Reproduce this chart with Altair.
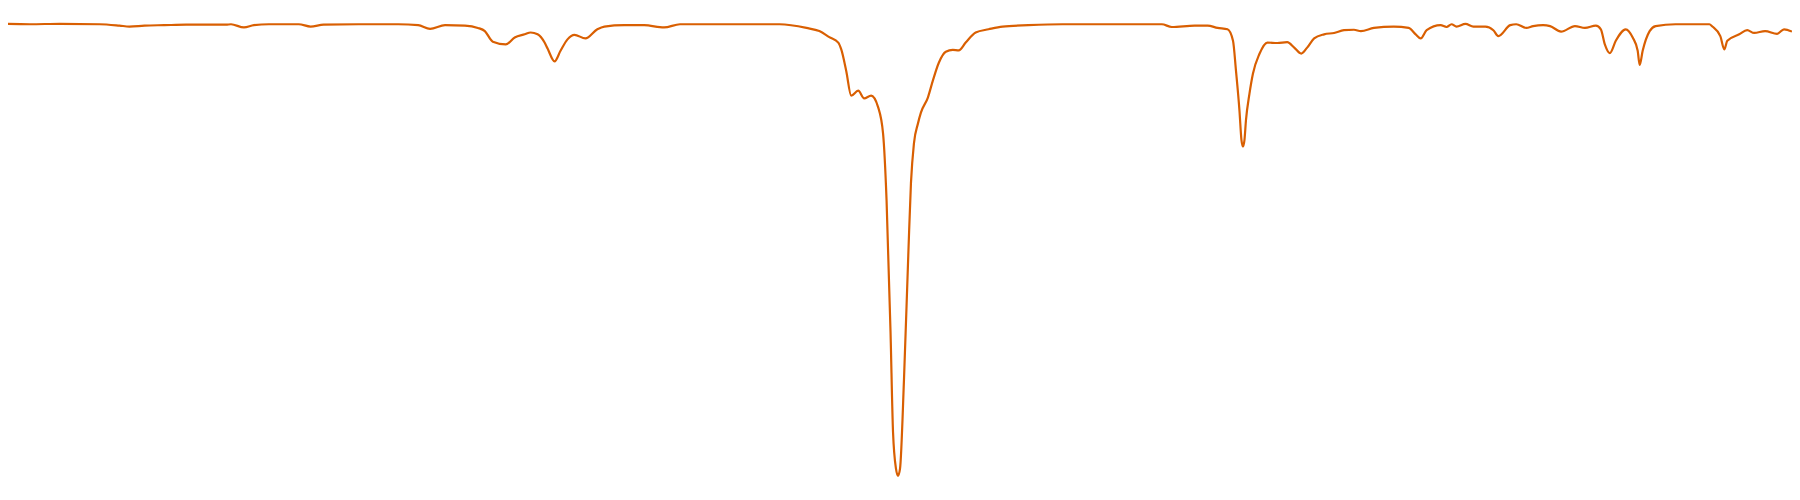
import altair as alt
import pandas as pd

wavenumber = [4000, 3940, 3880, 3800, 3760, 3740, 3710, 3670, 3626, 3546, 3536, 3510, 3490, 3460,
               3400, 3376, 3350, 3280, 3200, 3160, 3136, 3106, 3066, 3040, 3026, 3010, 2984, 2966,
               2946, 2934, 2920, 2906, 2900, 2886, 2874, 2860, 2846, 2824, 2800, 2786, 2746, 2706,
               2666, 2634, 2540, 2434, 2380, 2354, 2334, 2316, 2310, 2300, 2290, 2276, 2264, 2250,
               2236, 2226, 2219, 2211, 2206, 2200, 2196, 2192, 2184, 2175, 2170, 2164, 2156, 2150,
               2136, 2126, 2114, 2100, 2086, 2074, 2060, 2040, 2014, 1986, 1934, 1866, 1760, 1666,
               1646, 1600, 1574, 1554, 1534, 1523, 1517, 1510, 1506, 1503, 1500, 1497, 1490, 1483,
               1470, 1454, 1434, 1414, 1400, 1386, 1374, 1360, 1340, 1320, 1300, 1280, 1266, 1240,
               1200, 1170, 1156, 1146, 1134, 1106, 1094, 1084, 1074, 1056, 1040, 1016, 1000, 990,
               966, 954, 934, 920, 900, 886, 864, 836, 816, 794, 784, 776, 766, 754, 734, 720, 710,
               706, 700, 686, 674, 634, 566, 560, 544, 536, 530, 506, 490, 476, 454, 430, 416, 400]

transmittance = [99.4, 99.3, 99.4, 99.3, 99.0, 98.8, 99.0, 99.1, 99.2, 99.2, 99.3, 98.6, 99.1, 99.3,
                 99.3, 98.8, 99.2, 99.3, 99.3, 99.1, 98.3, 99.1, 99.0, 98.5, 97.8, 95.5, 94.9, 96.4,
                 97.1, 97.5, 97.1, 95.3, 94.0, 91.2, 93.5, 96.0, 97.0, 96.2, 98.2, 98.8, 99.1, 99.1,
                 98.6, 99.3, 99.3, 99.3, 98.5, 97.8, 96.5, 95.3, 93.8, 89.1, 83.7, 84.8, 83.1, 83.7,
                 81.2, 75.4, 60.9, 32.0, 10.2, 2.2, 0.7, 2.2, 21.7, 50.0, 64.6, 73.3, 77.6, 80.0,
                 83.3, 87.0, 90.9, 93.3, 93.7, 93.6, 95.3, 97.5, 98.2, 98.8, 99.1, 99.3, 99.3, 99.3,
                 98.7, 99.0, 99.0, 98.5, 98.2, 95.7, 89.1, 80.4, 74.0, 72.6, 74.0, 78.3, 84.1, 88.5,
                 92.8, 95.3, 95.2, 95.4, 94.2, 92.9, 94.2, 96.2, 97.1, 97.4, 98.0, 98.1, 97.8, 98.5,
                 98.8, 98.5, 97.1, 96.2, 98.0, 99.1, 98.7, 99.3, 98.8, 99.4, 98.8, 98.8, 98.0, 96.7,
                 99.1, 99.3, 98.5, 98.9, 99.1, 98.9, 97.7, 98.9, 98.5, 99.0, 98.2, 94.9, 93.0, 95.7,
                 98.2, 96.4, 93.5, 90.4, 93.5, 97.8, 98.9, 99.3, 99.3, 98.8, 96.7, 93.8, 95.7, 97.1,
                 98.0, 97.4, 97.8, 97.2, 98.2, 97.7]

df = pd.DataFrame({"wn": wavenumber, "T": transmittance})

chart = alt.Chart(df).mark_line(
    color="#d95f02", strokeWidth=2.2, interpolate="monotone", clip=True
).encode(
    x=alt.X("wn:Q", axis=None,
            scale=alt.Scale(domain=[400, 3984], reverse=True, nice=False, zero=False)),
    y=alt.Y("T:Q", axis=None,
            scale=alt.Scale(domain=[-4.348, 102.609], nice=False, zero=False)),
    order=alt.Order("wn:Q", sort="descending"),
).properties(
    width=1792, height=492, padding=0, autosize=alt.AutoSizeParams(type="none"),
    background="white"
).configure_view(stroke=None)

chart.save("out.html", embed_options={"renderer": "svg", "actions": False})
